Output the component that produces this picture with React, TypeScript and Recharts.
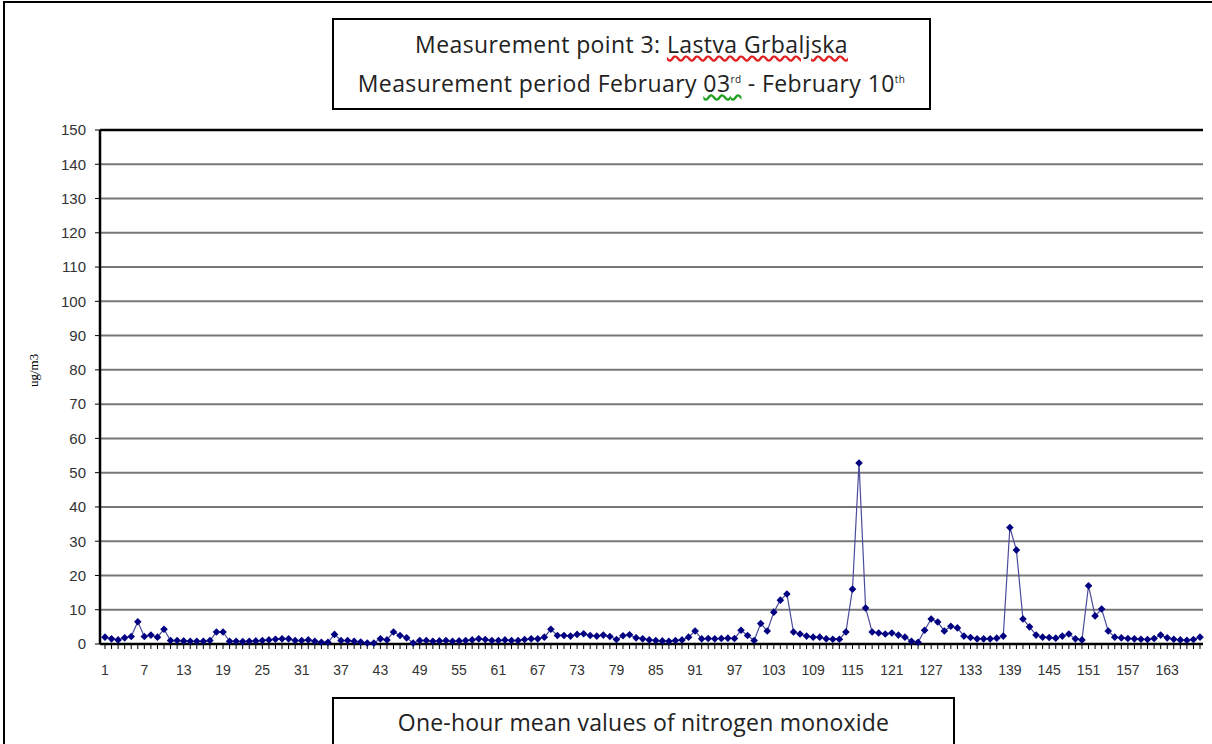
import { LineChart, Line, XAxis, YAxis, CartesianGrid, ReferenceLine } from "recharts";

// hourly NO values, Feb 03 - Feb 10 (168 h)
const hours = Array.from({ length: 168 }, (_, i) => String(i + 1));
const noValues = [
  2, 1.5, 1.2, 1.8, 2.2, 6.5, 2.2, 2.6, 2, 4.3,
  1, 1, 0.9, 0.8, 0.8, 0.8, 1, 3.5, 3.5, 0.8,
  0.8, 0.7, 0.8, 0.9, 1, 1.2, 1.4, 1.5, 1.5, 1,
  1, 1.2, 0.8, 0.5, 0.5, 2.8, 1, 1, 0.8, 0.6,
  0.3, 0.3, 1.5, 1.2, 3.5, 2.5, 1.8, 0.3, 1, 1,
  0.8, 0.9, 1, 0.8, 0.9, 1, 1.2, 1.5, 1.3, 1,
  1, 1.2, 1, 1, 1.3, 1.5, 1.5, 2, 4.3, 2.5,
  2.5, 2.3, 2.8, 3, 2.5, 2.3, 2.6, 2.2, 1.3, 2.4,
  2.7, 1.8, 1.5, 1.2, 1, 0.9, 0.8, 1, 1.2, 2,
  3.8, 1.5, 1.6, 1.5, 1.6, 1.7, 1.6, 4, 2.5, 1,
  6, 3.8, 9.3, 12.8, 14.6, 3.5, 2.9, 2.3, 2, 2,
  1.5, 1.4, 1.4, 3.5, 16, 52.8, 10.5, 3.5, 3.2, 2.9,
  3.2, 2.6, 2, 0.8, 0.5, 4, 7.3, 6.4, 3.8, 5.2,
  4.7, 2.3, 1.9, 1.5, 1.5, 1.5, 1.7, 2.3, 34, 27.4,
  7.3, 5, 2.6, 2, 1.9, 1.7, 2.3, 2.9, 1.5, 1.2,
  17, 8.2, 10.2, 3.8, 2, 1.8, 1.6, 1.5, 1.4, 1.3,
  1.6, 2.6, 1.8, 1.4, 1.2, 1.1, 1.3, 2,
];
const yTicks = [0, 10, 20, 30, 40, 50, 60, 70, 80, 90, 100, 110, 120, 130, 140, 150];

const data = hours.map((h, i) => ({ hour: h, value: noValues[i] }));

const boxFont = "'Open Sans', sans-serif";
const axisFont = "'Liberation Sans', Arial, sans-serif";

function Diamond(props: any) {
  const { cx, cy } = props;
  if (cx == null || cy == null) return null;
  return <path d={`M${cx},${cy - 3.8}L${cx + 3.8},${cy}L${cx},${cy + 3.8}L${cx - 3.8},${cy}Z`} fill="#000080" />;
}

function HourTick(props: any) {
  const { x, y, payload, index } = props;
  if (index % 6 !== 0) return <g />;
  return (
    <text x={x} y={y + 24} textAnchor="middle" fontFamily={axisFont} fontSize={14} fill="#333">
      {payload.value}
    </text>
  );
}

export default function App() {
  return (
    <div style={{ position: "absolute", left: 0, top: 0, width: 1212, height: 744, background: "#fff", overflow: "hidden" }}>
      <div style={{ position: "absolute", left: 3, top: 1, width: 1220, height: 760, border: "2px solid #000" }} />
      <LineChart width={1212} height={744} data={data} margin={{ top: 130, right: 9, left: 0, bottom: 70 }}>
        <CartesianGrid vertical={false} stroke="#777" strokeWidth={2} />
        <XAxis
          dataKey="hour"
          interval={0}
          tick={<HourTick />}
          tickSize={5}
          height={30}
          padding={{ left: 5, right: 3 }}
          axisLine={{ stroke: "#000", strokeWidth: 2.5 }}
          tickLine={{ stroke: "#000" }}
        />
        <YAxis
          domain={[0, 150]}
          ticks={yTicks}
          width={100}
          tickSize={5}
          tickMargin={9}
          axisLine={{ stroke: "#000", strokeWidth: 2.5 }}
          tickLine={{ stroke: "#000" }}
          tick={{ fontFamily: axisFont, fontSize: 15, fill: "#333" }}
          label={{ value: "ug/m3", angle: -90, position: "insideLeft", offset: 33, style: { fontFamily: "'Liberation Serif', serif", fontSize: 13, fill: "#000" } }}
        />
        <YAxis yAxisId="right" orientation="right" width={0} tick={false} axisLine={{ stroke: "#000", strokeWidth: 2.5 }} />
        <ReferenceLine y={150} stroke="#000" strokeWidth={2.5} />
        <Line
          type="linear"
          dataKey="value"
          stroke="#4b4b9b"
          strokeWidth={1.2}
          dot={<Diamond />}
          activeDot={false}
          isAnimationActive={false}
        />
      </LineChart>
      <div
        style={{
          position: "absolute", left: 332, top: 18, width: 595, height: 81, border: "2px solid #000", background: "#fff",
          fontFamily: boxFont, fontSize: 23, letterSpacing: 0.4, color: "#222", textAlign: "center", lineHeight: "35px", paddingTop: 7, boxSizing: "content-box",
        }}
      >
        <div>
          Measurement point 3:{" "}
          <span style={{ textDecoration: "underline wavy #e02020" }}>Lastva Grbaljska</span>
        </div>
        <div>
          Measurement period February{" "}
          <span style={{ textDecoration: "underline wavy #20a020" }}>
            03<sup style={{ fontSize: 10 }}>rd</sup>
          </span>
          {"  "}- February 10<sup style={{ fontSize: 10 }}>th</sup>
        </div>
      </div>
      <div
        style={{
          position: "absolute", left: 332, top: 697, width: 619, height: 60, border: "2px solid #000", background: "#fff",
          fontFamily: boxFont, fontSize: 23, letterSpacing: 0.2, color: "#222", textAlign: "center", paddingTop: 7,
        }}
      >
        One-hour mean values of nitrogen monoxide
      </div>
    </div>
  );
}
